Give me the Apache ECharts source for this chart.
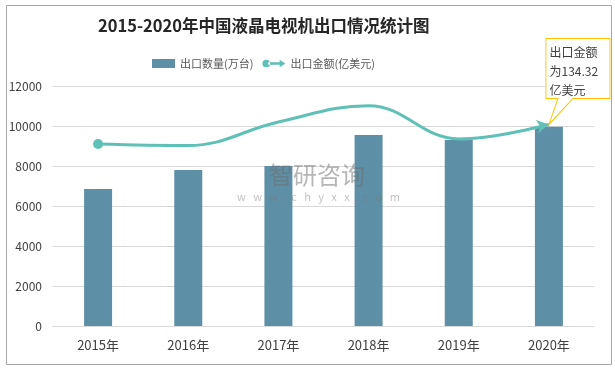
<!DOCTYPE html>
<html><head><meta charset="utf-8">
<script src="https://cdn.jsdelivr.net/npm/echarts@6/dist/echarts.min.js"></script>
<style>html,body{margin:0;padding:0;background:#fff}#c{width:615px;height:368px}</style>
</head><body><div id="c"></div>
<script>
const categories = ['2015年','2016年','2017年','2018年','2019年','2020年'];
const exportVolume = [6850, 7800, 8000, 9550, 9300, 9960];      // 出口数量(万台)
const exportValue = [121.3, 120.3, 136.0, 146.9, 124.7, 134.32]; // 出口金额(亿美元)
const yTicks = [0, 2000, 4000, 6000, 8000, 10000, 12000];

const barColor = '#5d8fa6';
const lineColor = '#5ec0b6';
const font = '"Noto Sans CJK SC", "Noto Sans", sans-serif';

const lineData = exportValue.map((v, i) => {
  if (i === 0) return {value: v, symbol: 'circle', symbolSize: 10};
  if (i === exportValue.length - 1) return {value: v, symbol: 'arrow', symbolSize: [10, 12], symbolRotate: -80};
  return {value: v, symbol: 'none'};
});

const chart = echarts.init(document.getElementById('c'));
chart.setOption({
  animation: false,
  textStyle: {fontFamily: font},
  title: {
    text: '2015-2020年中国液晶电视机出口情况统计图',
    left: 93, top: 12,
    textStyle: {fontSize: 16.5, fontWeight: 'bold', color: '#262626', fontFamily: font}
  },
  legend: {
    left: 147, top: 53, itemGap: 9,
    textStyle: {color: '#595959', fontSize: 11, fontFamily: font},
    data: [
      {name: '出口数量(万台)', icon: 'rect', itemStyle: {color: barColor}},
      {name: '出口金额(亿美元)', icon: 'path://M0,5 a4,4 0 1,0 8,0 a4,4 0 1,0 -8,0 Z M6,3.6 L18,3.6 L18,1 L24,5 L18,9 L18,6.4 L6,6.4 Z', itemStyle: {color: lineColor}}
    ],
    itemWidth: 23, itemHeight: 9
  },
  grid: {left: 53, right: 21, top: 86, bottom: 42},
  xAxis: {
    type: 'category', data: categories,
    axisLine: {lineStyle: {color: '#d9d9d9'}},
    axisTick: {show: false},
    axisLabel: {color: '#404040', fontSize: 13, margin: 13}
  },
  yAxis: [{
    type: 'value', min: yTicks[0], max: yTicks[yTicks.length - 1], interval: 2000,
    axisLine: {show: false}, axisTick: {show: false},
    axisLabel: {color: '#404040', fontSize: 12, margin: 11, formatter: v => String(v)},
    splitLine: {lineStyle: {color: '#d9d9d9'}}
  }, {
    type: 'value', min: 0, max: 160, show: false,
    splitLine: {show: false}
  }],
  series: [{
    name: '出口数量(万台)', type: 'bar', data: exportVolume, barWidth: 28,
    itemStyle: {color: barColor}
  }, {
    name: '出口金额(亿美元)', type: 'line', yAxisIndex: 1, data: lineData,
    smooth: 0.4, lineStyle: {color: lineColor, width: 3},
    itemStyle: {color: lineColor},
    markPoint: {
      data: [{coord: [categories.length - 1, exportValue[exportValue.length - 1]]}],
      symbol: 'path://M0,0 L64,0 L64,60 L27,60 L3,86 L12,60 L0,60 Z',
      symbolSize: [64, 86], symbolOffset: [29, -43], symbolKeepAspect: false,
      itemStyle: {color: '#fff', borderColor: '#ffc000', borderWidth: 1},
      label: {
        show: true, position: [4, 5], align: 'left', verticalAlign: 'top',
        color: '#404040', fontSize: 12, lineHeight: 19,
        formatter: '出口金额\n为134.32\n亿美元'
      }
    }
  }],
  graphic: [
    {type: 'rect', left: 4, top: 3, shape: {width: 605, height: 359}, style: {fill: 'none', stroke: '#a6a6a6', lineWidth: 1}, silent: true, z: -1},
    {type: 'text', left: 269, top: 163, style: {text: '智研咨询', fontSize: 24, fill: 'rgba(110,110,110,0.5)', fontFamily: font}, silent: true, z: 100},
    {type: 'text', left: 237, top: 191, style: {text: 'w   w   w  .  c   h   y   x   x  .  c   o   m', fontSize: 11, fill: 'rgba(120,120,120,0.45)', fontFamily: font}, silent: true, z: 100}
  ]
});
</script></body></html>
